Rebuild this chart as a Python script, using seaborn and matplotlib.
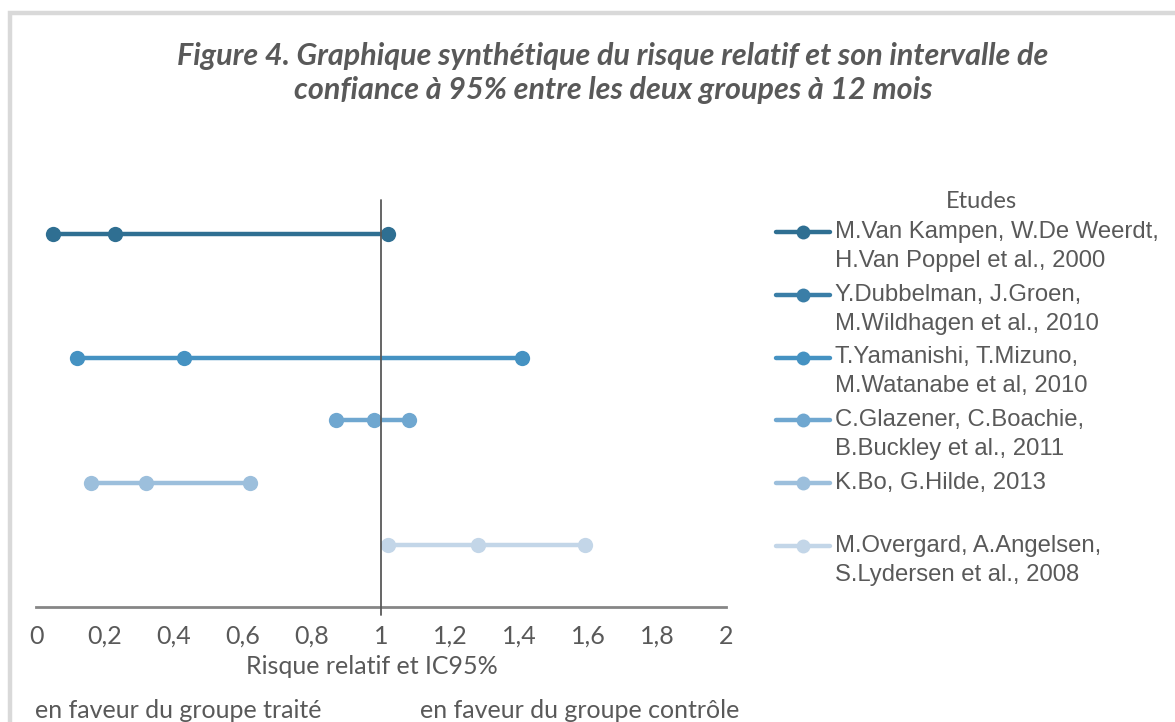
import numpy as np
import pandas as pd
import matplotlib
matplotlib.use("Agg")
import matplotlib.pyplot as plt
import seaborn as sns
from matplotlib.lines import Line2D
from matplotlib.patches import Rectangle
from matplotlib.legend_handler import HandlerLine2D

# Data
studies = [
    "M.Van Kampen, W.De Weerdt,\nH.Van Poppel et al., 2000",
    "Y.Dubbelman, J.Groen,\nM.Wildhagen et al., 2010",
    "T.Yamanishi, T.Mizuno,\nM.Watanabe et al, 2010",
    "C.Glazener, C.Boachie,\nB.Buckley et al., 2011",
    "K.Bo, G.Hilde, 2013",
    "M.Overgard, A.Angelsen,\nS.Lydersen et al., 2008",
]
ic_low = [0.05, np.nan, 0.12, 0.87, 0.16, 1.02]
rr = [0.23, np.nan, 0.43, 0.98, 0.32, 1.28]
ic_high = [1.02, np.nan, 1.41, 1.08, 0.62, 1.59]
colors = ["#2f6f92", "#3a7ea7", "#4592c2", "#6fa7d0", "#9cbfdc", "#c3d6e8"]
xticks = [0, 0.2, 0.4, 0.6, 0.8, 1, 1.2, 1.4, 1.6, 1.8, 2]
xtick_labels = ["0", "0,2", "0,4", "0,6", "0,8", "1", "1,2", "1,4", "1,6", "1,8", "2"]

TXT = "#595959"
CAL = "Lato"

# long table: one row per point (lower bound, RR, upper bound)
rows = []
for i, s in enumerate(studies):
    for v in (ic_low[i], rr[i], ic_high[i]):
        rows.append({"etude": s, "rr": v, "rang": len(studies) - i})
df = pd.DataFrame(rows).dropna()

sns.set_theme(style="white")
plt.rcParams["font.family"] = [CAL, "DejaVu Sans"]

W, H = 1175, 722
fig = plt.figure(figsize=(W / 100, H / 100), dpi=100)
ax = fig.add_axes([36 / W, (H - 607) / H, 690 / W, 407 / H])

sns.lineplot(data=df, x="rr", y="rang", hue="etude",
             hue_order=[s for s in studies if s in set(df["etude"])],
             palette=dict(zip(studies, colors)), estimator=None,
             marker="o", markersize=11, markeredgewidth=0, linewidth=3.2,
             legend=False, ax=ax)

ax.set_xlim(0, 2)
ax.set_ylim(0, 6.54)
ax.axvline(1, ymin=-0.02, ymax=1, color=TXT, lw=1.3, zorder=5, clip_on=False)
for sp in ["top", "right", "left"]:
    ax.spines[sp].set_visible(False)
ax.spines["bottom"].set_color("#868686")
ax.spines["bottom"].set_linewidth(2)
ax.set_yticks([])
ax.set_xticks(xticks)
ax.set_xticklabels(xtick_labels, fontsize=18, color=TXT)
ax.tick_params(axis="x", length=0, pad=13)
ax.set_xlabel("Risque relatif et IC95%", fontsize=18, color=TXT)
ax.xaxis.set_label_coords((372 - 36) / 690, -(667 - 607) / 407)
ax.xaxis.label.set_verticalalignment("center")
ax.set_ylabel("")


class FirstLineHandler(HandlerLine2D):
    # put the legend handle next to the first line of a two-line label
    def create_artists(self, legend, orig_handle, xdescent, ydescent,
                       width, height, fontsize, trans):
        arts = super().create_artists(legend, orig_handle, xdescent, ydescent,
                                      width, height, fontsize, trans)
        for a in arts:
            a.set_ydata(np.asarray(a.get_ydata()) + 10.4)
        return arts


handles = [Line2D([], [], color=c, lw=3.2, marker="o", markersize=10,
                  markeredgewidth=0) for c in colors]
labels = [s if "\n" in s else s + "\n " for s in studies]
leg = ax.legend(handles, labels, handler_map={Line2D: FirstLineHandler()},
                loc="upper left", bbox_to_anchor=(776 / W, 1 - 221 / H),
                bbox_transform=fig.transFigure, frameon=False,
                prop={"family": "Liberation Sans", "size": 17.2},
                labelcolor=TXT, handlelength=2.26, handletextpad=0.2,
                labelspacing=0.5, borderpad=0, borderaxespad=0)
for t in leg.get_texts():
    t.set_linespacing(1.4)
fig.text(981 / W, 1 - 202 / H, "Etudes", ha="center", va="center",
         fontsize=17, color=TXT)

fig.text(613 / W, 1 - 73 / H,
         "Figure 4. Graphique synthétique du risque relatif et son intervalle de\n"
         "confiance à 95% entre les deux groupes à 12 mois",
         ha="center", va="center", fontsize=22, fontweight="bold",
         style="italic", color=TXT, linespacing=1.3)

fig.text(35 / W, 11 / H, "en faveur du groupe traité", ha="left", va="center",
         fontsize=18, color=TXT)
fig.text(420 / W, 11 / H, "en faveur du groupe contrôle", ha="left", va="center",
         fontsize=18, color=TXT)

# light grey frame around the chart area
fig.patches.append(Rectangle((9.5 / W, -0.1), 1.2, 1.1 - 12.5 / H,
                             transform=fig.transFigure, fill=False,
                             edgecolor="#d9d9d9", lw=3.2))

fig.savefig("out.png", dpi=100)
